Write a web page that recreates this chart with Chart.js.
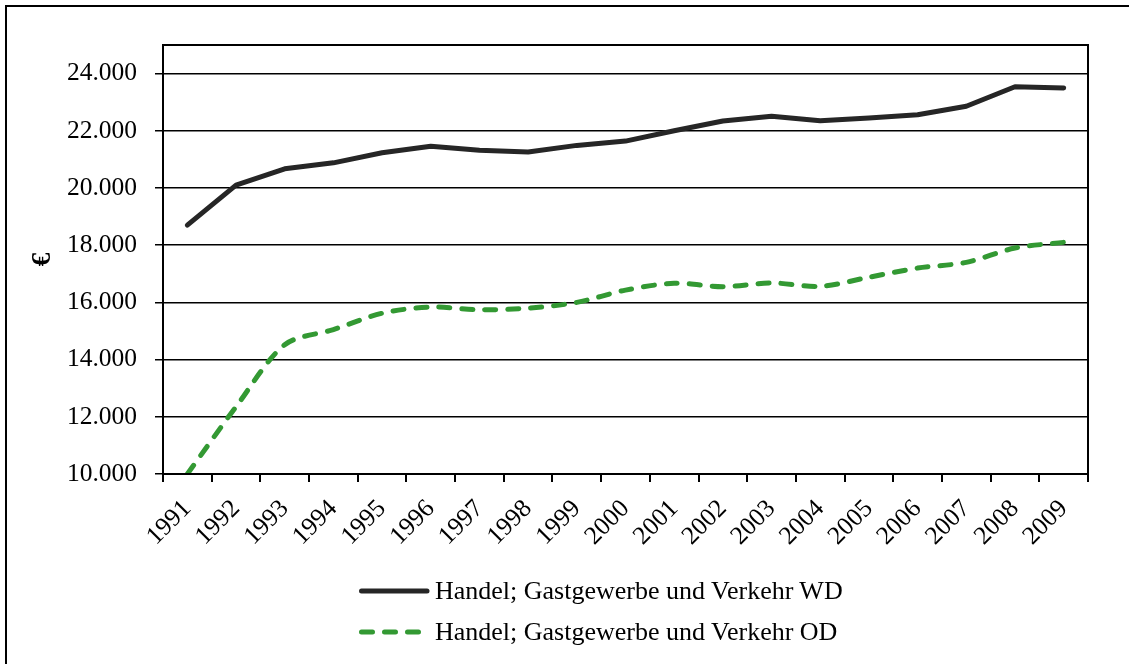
<!DOCTYPE html>
<html>
<head>
<meta charset="utf-8">
<script src="https://cdn.jsdelivr.net/npm/chart.js@4.4.1/dist/chart.umd.min.js"></script>
<style>
  html, body { margin: 0; padding: 0; background: #fff; overflow: hidden; }
  body { width: 1129px; height: 664px; position: relative; }
  #frame { position: absolute; left: 5px; top: 5px; width: 1300px; height: 900px; border: 2px solid #000; box-sizing: border-box; }
  #wrap { position: absolute; left: 0; top: 0; width: 1129px; height: 664px; }
  #legend { position: absolute; left: 359px; top: 570px; font-family: 'Liberation Serif', 'Times New Roman', serif; font-size: 26px; color: #000; }
  .row { display: flex; align-items: center; height: 41px; white-space: nowrap; }
  .row svg { width: 72px; height: 12px; margin-right: 4px; flex: none; }
</style>
</head>
<body>
<div id="frame"></div>
<div id="wrap"><canvas id="c" width="1129" height="664"></canvas></div>
<div id="legend"></div>
<script>
const years = ['1991','1992','1993','1994','1995','1996','1997','1998','1999','2000','2001','2002','2003','2004','2005','2006','2007','2008','2009'];
const wdValues = [18700, 20100, 20670, 20880, 21230, 21460, 21320, 21260, 21490, 21640, 22000, 22340, 22510, 22350, 22450, 22560, 22860, 23540, 23500];
const odValues = [10000, 12350, 14520, 15050, 15620, 15840, 15740, 15800, 16000, 16430, 16670, 16550, 16680, 16560, 16880, 17200, 17400, 17900, 18100];
const yTicks = [10000, 12000, 14000, 16000, 18000, 20000, 22000, 24000];
const seriesNames = ['Handel; Gastgewerbe und Verkehr WD', 'Handel; Gastgewerbe und Verkehr OD'];

const FONT = "'Liberation Serif', 'Times New Roman', serif";

function fmt(v) {
  return String(v).replace(/\B(?=(\d{3})+(?!\d))/g, '.');
}

const plotFrame = {
  id: 'plotFrame',
  afterDraw(chart) {
    const a = chart.chartArea, ctx = chart.ctx;
    ctx.save();
    ctx.strokeStyle = '#000';
    ctx.lineWidth = 2;
    ctx.strokeRect(a.left, a.top, a.right - a.left, a.bottom - a.top);
    ctx.restore();
  }
};

const datasets = [
  {
    label: seriesNames[0],
    data: wdValues,
    borderColor: '#262626',
    borderWidth: 5,
    borderCapStyle: 'round',
    borderJoinStyle: 'round',
    borderDash: [],
    tension: 0,
    pointRadius: 0,
    fill: false
  },
  {
    label: seriesNames[1],
    data: odValues,
    borderColor: '#339933',
    borderWidth: 5,
    borderCapStyle: 'round',
    borderJoinStyle: 'round',
    borderDash: [11, 12],
    tension: 0.3,
    pointRadius: 0,
    fill: false
  }
];

new Chart(document.getElementById('c'), {
  type: 'line',
  data: { labels: years, datasets: datasets },
  options: {
    responsive: false,
    animation: false,
    devicePixelRatio: 1,
    layout: { padding: { top: 45, right: 41, bottom: 90, left: 0 } },
    plugins: { legend: { display: false }, tooltip: { enabled: false } },
    scales: {
      x: {
        type: 'category',
        offset: true,
        grid: { display: true, drawOnChartArea: false, drawTicks: true, tickLength: 8, offset: true, color: '#000', lineWidth: 2 },
        border: { display: true, color: '#000', width: 2 },
        ticks: { autoSkip: false, maxRotation: 45, minRotation: 45, padding: 12, color: '#000', font: { family: FONT, size: 25.5 } },
        afterFit(scale) { scale.height = 100; }
      },
      y: {
        min: 10000,
        max: 25000,
        afterBuildTicks(axis) { axis.ticks = yTicks.map(v => ({ value: v })); },
        grid: { color: '#000', lineWidth: 1.5, drawTicks: true, tickLength: 8, tickColor: '#000' },
        border: { display: true, color: '#000', width: 2 },
        ticks: { padding: 18, color: '#000', font: { family: FONT, size: 25.5 }, callback: v => fmt(v) },
        title: { display: true, text: '€', color: '#000', font: { family: FONT, size: 27, weight: 'bold' }, padding: { top: 27, bottom: 0 } },
        afterFit(scale) { scale.width = 163; }
      }
    }
  },
  plugins: [plotFrame]
});

// legend (two stacked rows, as in the reference)
const legend = document.getElementById('legend');
datasets.forEach(ds => {
  const row = document.createElement('div');
  row.className = 'row';
  const ns = 'http://www.w3.org/2000/svg';
  const svg = document.createElementNS(ns, 'svg');
  const line = document.createElementNS(ns, 'line');
  line.setAttribute('x1', '2.5'); line.setAttribute('x2', '68');
  line.setAttribute('y1', '6'); line.setAttribute('y2', '6');
  line.setAttribute('stroke', ds.borderColor);
  line.setAttribute('stroke-width', ds.borderWidth);
  line.setAttribute('stroke-linecap', 'round');
  if (ds.borderDash.length) line.setAttribute('stroke-dasharray', ds.borderDash.join(' '));
  svg.appendChild(line);
  row.appendChild(svg);
  const t = document.createElement('span');
  t.textContent = ds.label;
  row.appendChild(t);
  legend.appendChild(row);
});
</script>
</body>
</html>
